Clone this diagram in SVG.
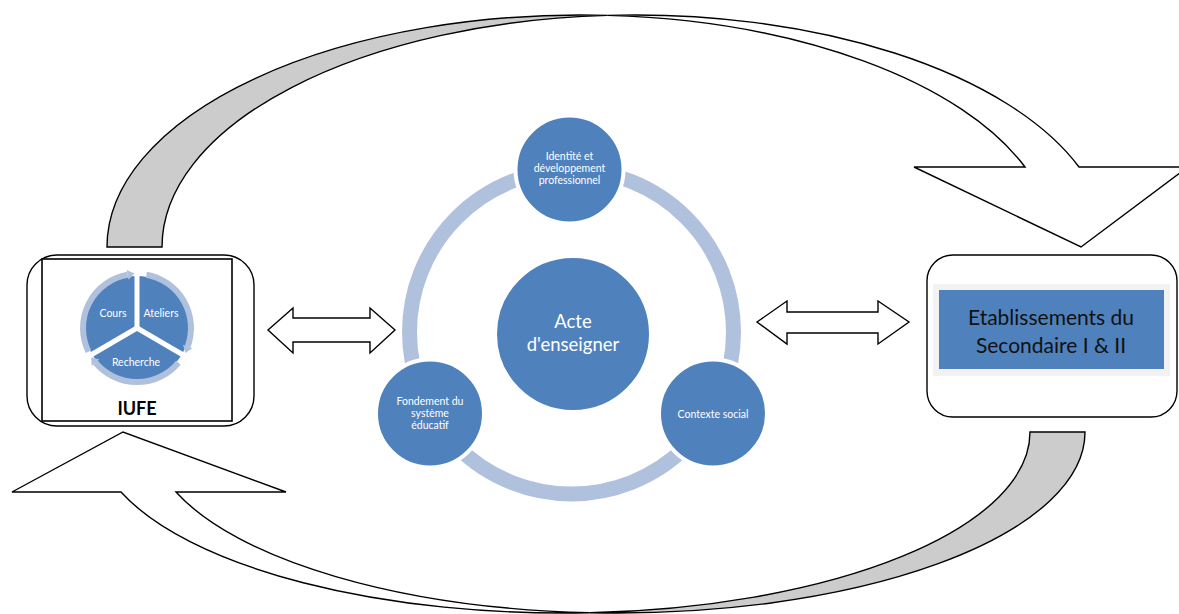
<svg xmlns="http://www.w3.org/2000/svg" width="1179" height="614" viewBox="0 0 1179 614">
<style>
.ol{stroke:#000;stroke-width:1.4;stroke-linejoin:miter}
.back{fill:#cccccc}
.front{fill:#ffffff}
.node{fill:#4f81bd;stroke:#ffffff;stroke-width:4}
.wt{fill:#ffffff;font-family:Lato,"Liberation Sans",sans-serif;text-anchor:middle}
.small{font-size:10.5px}
.pie{fill:#ffffff;font-family:Lato,"Liberation Sans",sans-serif;font-size:10.5px;text-anchor:middle}
.ring{fill:none;stroke:#b0c1dd}
</style>
<defs>
<marker id="ah" markerUnits="userSpaceOnUse" markerWidth="12" markerHeight="12" refX="1" refY="6" orient="auto">
<path d="M1,1 L8,6 L1,11 Z" fill="#b0c1dd"/>
</marker>
</defs>
<rect width="1179" height="614" fill="#ffffff"/>
<g id="connectors">
<g id="top-curved-arrow">
<path class="ol back" d="M107,247 A473.5,232 0 0,1 607.75,15.4 A473,232 0 0,0 162,247 Z"/>
<path class="ol front" d="M607.75,15.4 A473,232 0 0,1 1079,167 L1188,167 L1081,247 L914,167 L1025,167 A473.5,232 0 0,0 607.75,15.4 Z"/>
</g>
<g id="bottom-curved-arrow">
<path class="ol back" d="M1085,432 A467.7,181 0 0,1 589.8,612.7 A467.7,181 0 0,0 1030,432 Z"/>
<path class="ol front" d="M589.8,612.7 A467.7,181 0 0,1 121,492 L12,492 L123,432 L286,492 L176,492 A467.7,181 0 0,0 589.8,612.7 Z"/>
</g>
<polygon id="left-double-arrow" class="ol front" points="268,330 293,308 293,318 370,318 370,308 395,330 370,353 370,342 293,342 293,353"/>
<polygon id="right-double-arrow" class="ol front" points="757,322 787,301 787,312 878,312 878,301 909,322 878,344 878,333 787,333 787,344"/>
</g>
<g id="iufe">
<rect x="27" y="255" width="227" height="171" rx="30" ry="30" fill="#ffffff" stroke="#000" stroke-width="1.4"/>
<rect x="42" y="259" width="190" height="162" fill="#ffffff" stroke="#000" stroke-width="1.6"/>
<circle cx="137" cy="328" r="52" fill="#4f81bd"/>
<path class="ring" stroke-width="6" d="M88.5,351.7 A54,54 0 0,1 127.6,274.8" marker-end="url(#ah)"/>
<path class="ring" stroke-width="6" d="M146.4,274.8 A54,54 0 0,1 187.7,346.5" marker-end="url(#ah)"/>
<path class="ring" stroke-width="6" d="M178.4,362.7 A54,54 0 0,1 95.6,362.7" marker-end="url(#ah)"/>
<g stroke="#ffffff" stroke-width="5">
<line x1="137" y1="328" x2="137" y2="266"/>
<line x1="137" y1="328" x2="190" y2="359"/>
<line x1="137" y1="328" x2="84" y2="359"/>
</g>
<text class="pie" x="113" y="317">Cours</text>
<text class="pie" x="161" y="317">Ateliers</text>
<text class="pie" x="136" y="366">Recherche</text>
<text x="137" y="415" font-family="Lato,'Liberation Sans',sans-serif" font-size="18" font-weight="bold" text-anchor="middle" fill="#000">IUFE</text>
</g>
<g id="cycle-ring">
<circle class="ring" cx="571.5" cy="332" r="162" stroke-width="15"/>
</g>
<g id="acte">
<circle class="node" cx="573" cy="334" r="78"/>
<text class="wt" font-size="18.5" x="573" y="328">Acte</text>
<text class="wt" font-size="18.5" x="573" y="351">d'enseigner</text>
</g>
<g id="identite">
<circle class="node" cx="569.5" cy="169.5" r="54"/>
<text class="wt small" x="569.5" y="160">Identité et</text>
<text class="wt small" x="569.5" y="172">développement</text>
<text class="wt small" x="569.5" y="184">professionnel</text>
</g>
<g id="fondement">
<circle class="node" cx="430" cy="413.5" r="54"/>
<text class="wt small" x="430" y="405">Fondement du</text>
<text class="wt small" x="430" y="417">système</text>
<text class="wt small" x="430" y="429">éducatif</text>
</g>
<g id="contexte">
<circle class="node" cx="713" cy="413.5" r="54"/>
<text class="wt small" x="713" y="418">Contexte social</text>
</g>
<g id="etablissements">
<rect x="927" y="255" width="250" height="162" rx="26" ry="26" fill="#ffffff" stroke="#000" stroke-width="1.4"/>
<rect x="933" y="284" width="237" height="92" fill="#f2f2f2"/>
<rect x="939" y="290" width="225" height="79" fill="#4f81bd"/>
<text x="1051" y="325" font-family="Lato,'Liberation Sans',sans-serif" font-size="21" text-anchor="middle" fill="#111">Etablissements du</text>
<text x="1051" y="353" font-family="Lato,'Liberation Sans',sans-serif" font-size="21" text-anchor="middle" fill="#111">Secondaire I &amp; II</text>
</g>
</svg>
